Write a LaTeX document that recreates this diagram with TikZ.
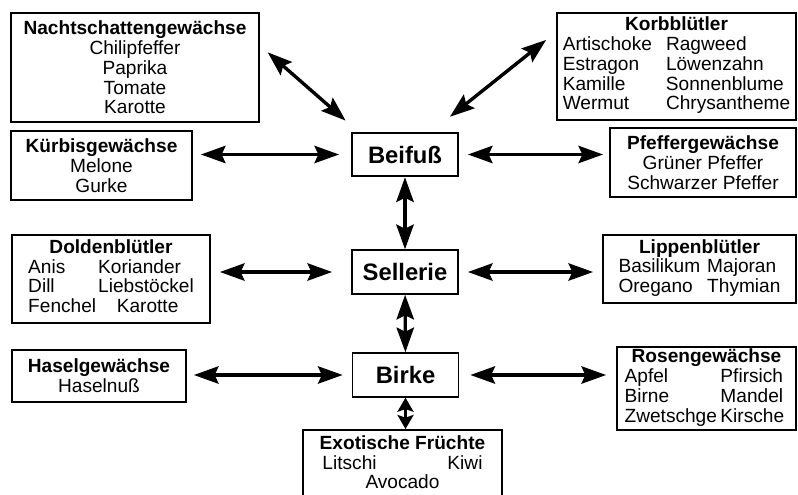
\documentclass[tikz,border=0pt]{standalone}
\usepackage{fontspec}
\setmainfont{Liberation Sans}
\usetikzlibrary{arrows.meta}

\begin{document}
\begin{tikzpicture}[x=0.03cm, y=-0.03cm,
    fam/.style={rectangle, draw, line width=1.5pt, inner sep=2pt, align=center, font=\fontsize{16.3}{16.8}\selectfont},
    plant/.style={rectangle, draw, line width=1.5pt, minimum width=3.18cm, minimum height=1.31cm, font=\fontsize{20.3}{22}\selectfont\bfseries},
    link/.style={{Stealth[length=0.74cm, width=0.52cm, inset=0.12cm]}-{Stealth[length=0.74cm, width=0.52cm, inset=0.12cm]}, line width=2.9pt},
    side/.style={link, shorten <=0.27cm, shorten >=0.27cm},
    shortlink/.style={{Stealth[length=0.42cm, width=0.48cm, inset=0.08cm]}-{Stealth[length=0.42cm, width=0.48cm, inset=0.08cm]}, line width=2.9pt}]

    \clip (0,0) rectangle (798,494);

    % Middle column
    \node[plant] (beifuss) at (405,154.5) {Beifuß};
    \node[plant] (sellerie) at (405,272) {Sellerie};
    \node[plant] (birke) at (405.5,375) {Birke};

    % Left column
    \node[fam, minimum width=7.44cm, minimum height=3.27cm] (nacht) at (135,67.5)
        {\textbf{Nachtschattengewächse}\\Chilipfeffer\\Paprika\\Tomate\\Karotte};
    \node[fam, minimum width=5.43cm, minimum height=2.07cm] (kuerbis) at (101.5,165.5)
        {\textbf{Kürbisgewächse}\\Melone\\Gurke};
    \node[fam, minimum width=5.94cm, minimum height=2.64cm] (dolden) at (111,279)
        {\begin{tabular}{@{}p{2.1cm}@{}l@{}}
            \multicolumn{2}{c}{\textbf{Doldenblütler}}\\
            Anis & Koriander\\
            Dill & Liebstöckel\\
            \multicolumn{2}{@{}l@{}}{Fenchel\hspace{0.62cm}Karotte}
         \end{tabular}};
    \node[fam, minimum width=5.22cm, minimum height=1.56cm] (hasel) at (99,376)
        {\textbf{Haselgewächse}\\Haselnuß};

    % Right column
    \node[fam, minimum width=7.17cm, minimum height=3.21cm] (korb) at (676.5,66.5)
        {\begin{tabular}{@{}l@{\hspace{12pt}}l@{}}
            \multicolumn{2}{c}{\textbf{Korbblütler}}\\
            Artischoke & Ragweed\\
            Estragon & Löwenzahn\\
            Kamille & Sonnenblume\\
            Wermut & Chrysantheme
         \end{tabular}};
    \node[fam, minimum width=5.58cm, minimum height=2.07cm] (pfeffer) at (703,162.5)
        {\textbf{Pfeffergewächse}\\Grüner Pfeffer\\Schwarzer Pfeffer};
    \node[fam, minimum width=5.79cm, minimum height=2.04cm] (lippen) at (699.5,269)
        {\begin{tabular}{@{}l@{\hspace{6pt}}l@{}}
            \multicolumn{2}{c}{\textbf{Lippenblütler}}\\
            Basilikum & Majoran\\
            Oregano & Thymian
         \end{tabular}};
    \node[fam, minimum width=5.37cm, minimum height=2.49cm] (rosen) at (706.5,388.5)
        {\begin{tabular}{@{}l@{\hspace{3pt}}l@{}}
            \multicolumn{2}{c}{\textbf{Rosengewächse}}\\
            Apfel & Pfirsich\\
            Birne & Mandel\\
            Zwetschge & Kirsche
         \end{tabular}};

    % Bottom
    \node[fam, anchor=north, minimum width=5.97cm, inner ysep=5pt, text depth=1cm] (exot) at (402.5,429)
        {\textbf{Exotische Früchte}\\\makebox[4.8cm]{Litschi\hfill Kiwi}\\Avocado};

    % Arrows
    \draw[link, shorten <=0.31cm, shorten >=0.51cm] (nacht.10) -- (beifuss.154);
    \draw[link, shorten <=0.38cm, shorten >=0.72cm] (korb.164) -- (beifuss.41);
    \draw[side, shorten >=0.24cm, shorten <=0.36cm] (beifuss.west) -- (kuerbis.east |- beifuss.west);
    \draw[side, shorten >=0.18cm] (beifuss.east) -- (pfeffer.west |- beifuss.east);
    \draw[side, shorten <=0.57cm] (sellerie.west) -- (dolden.east |- sellerie.west);
    \draw[side] (sellerie.east) -- (lippen.west |- sellerie.east);
    \draw[side, shorten >=0.21cm] (birke.west) -- (hasel.east |- birke.west);
    \draw[side, shorten <=0.33cm, shorten >=0.3cm] (birke.east) -- (rosen.west |- birke.east);
    \draw[link] (beifuss) -- (sellerie);
    \draw[link] (sellerie) -- (birke);
    \draw[shortlink] (birke.south) -- (birke.south |- exot.north);
\end{tikzpicture}
\end{document}
